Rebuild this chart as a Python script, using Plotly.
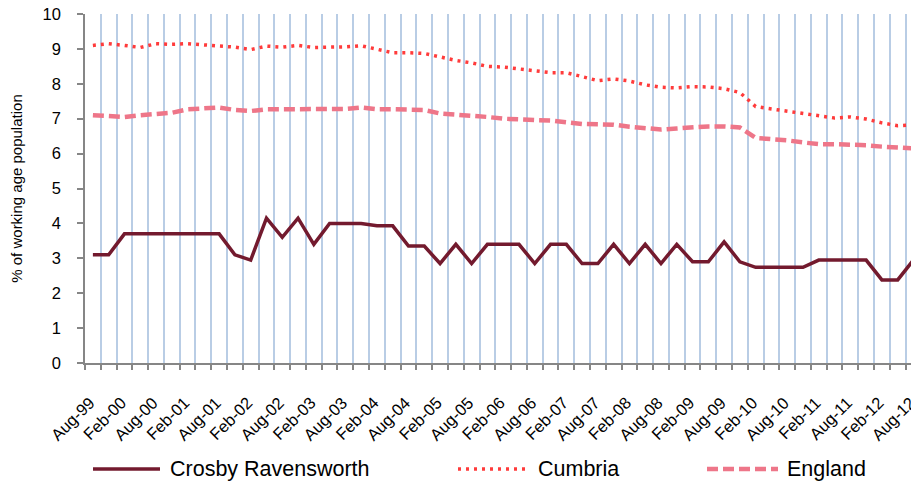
import plotly.graph_objects as go

# quarterly periods shown on the category axis
quarters = [
    "Aug-99", "Nov-99", "Feb-00", "May-00", "Aug-00", "Nov-00", "Feb-01", "May-01",
    "Aug-01", "Nov-01", "Feb-02", "May-02", "Aug-02", "Nov-02", "Feb-03", "May-03",
    "Aug-03", "Nov-03", "Feb-04", "May-04", "Aug-04", "Nov-04", "Feb-05", "May-05",
    "Aug-05", "Nov-05", "Feb-06", "May-06", "Aug-06", "Nov-06", "Feb-07", "May-07",
    "Aug-07", "Nov-07", "Feb-08", "May-08", "Aug-08", "Nov-08", "Feb-09", "May-09",
    "Aug-09", "Nov-09", "Feb-10", "May-10", "Aug-10", "Nov-10", "Feb-11", "May-11",
    "Aug-11", "Nov-11", "Feb-12", "May-12", "Aug-12",
]
# only every second period gets a label
tick_labels = [
    "Aug-99", "Feb-00", "Aug-00", "Feb-01", "Aug-01", "Feb-02", "Aug-02", "Feb-03",
    "Aug-03", "Feb-04", "Aug-04", "Feb-05", "Aug-05", "Feb-06", "Aug-06", "Feb-07",
    "Aug-07", "Feb-08", "Aug-08", "Feb-09", "Aug-09", "Feb-10", "Aug-10", "Feb-11",
    "Aug-11", "Feb-12", "Aug-12",
]

crosby = [
    3.1, 3.1, 3.7, 3.7, 3.7, 3.7, 3.7, 3.7, 3.7, 3.1,
    2.95, 4.15, 3.6, 4.15, 3.4, 4.0, 4.0, 4.0, 3.93, 3.93,
    3.35, 3.35, 2.85, 3.4, 2.85, 3.4, 3.4, 3.4, 2.85, 3.4,
    3.4, 2.85, 2.85, 3.4, 2.85, 3.4, 2.85, 3.4, 2.9, 2.9,
    3.47, 2.9, 2.74, 2.74, 2.74, 2.74, 2.95, 2.95, 2.95, 2.95,
    2.38, 2.38, 2.95,
]
cumbria = [
    9.1, 9.15, 9.1, 9.04, 9.15, 9.13, 9.15, 9.12, 9.1, 9.05,
    8.98, 9.08, 9.05, 9.1, 9.04, 9.04, 9.06, 9.09, 8.98, 8.89,
    8.89, 8.87, 8.77, 8.67, 8.6, 8.5, 8.48, 8.42, 8.37, 8.32,
    8.32, 8.2, 8.09, 8.14, 8.08, 7.97, 7.9, 7.88, 7.92, 7.91,
    7.86, 7.75, 7.35, 7.28, 7.22, 7.16, 7.08, 7.02, 7.05, 6.99,
    6.88, 6.8, 6.82,
]
england = [
    7.1, 7.08, 7.05, 7.1, 7.15, 7.17, 7.27, 7.28, 7.32, 7.25,
    7.22, 7.27, 7.27, 7.3, 7.27, 7.27, 7.28, 7.32, 7.27, 7.27,
    7.27, 7.25, 7.15, 7.12, 7.1, 7.05, 7.0, 6.97, 6.96, 6.95,
    6.89, 6.85, 6.84, 6.83, 6.77, 6.72, 6.69, 6.72, 6.76, 6.78,
    6.78, 6.75, 6.45, 6.42, 6.38, 6.32, 6.27, 6.27, 6.27, 6.24,
    6.2, 6.16, 6.15,
]

series_names = ["Crosby Ravensworth", "Cumbria", "England"]

FONT = "Liberation Sans, Arial, sans-serif"
AXIS_GREY = "#868686"
GRID_BLUE = "#B9CDE5"

styles = [
    dict(color="#731A2E", width=3.5, dash="solid"),
    dict(color="#FF3B3B", width=3.5, dash="3px,5px"),
    dict(color="#EE7689", width=4.5, dash="11px,5px"),
]

# page body has an 8px margin, so the figure is 8px smaller than the window
W, H = 911, 478
M_L, M_R, M_T, M_B = 77, 0, 6, 123

fig = go.Figure()
for name, vals, st in zip(series_names, [crosby, cumbria, england], styles):
    fig.add_trace(go.Scatter(x=quarters, y=vals, mode="lines", name=name,
                             line=st, showlegend=False))

ticktext = [q if q in tick_labels else "" for q in quarters]

fig.update_xaxes(
    type="category", range=[-0.5, 52.35],
    tickmode="array", tickvals=quarters, ticktext=ticktext,
    tickson="boundaries", ticks="outside", ticklen=5, tickwidth=1.5,
    tickcolor=AXIS_GREY, tickangle=-45, ticklabelstandoff=22,
    ticklabelshift=-3, ticklabeloverflow="allow",
    showgrid=True, gridcolor=GRID_BLUE, gridwidth=1.5,
    showline=True, linecolor=AXIS_GREY, linewidth=1.5,
    tickfont=dict(family=FONT, size=16.5, color="black"),
)
fig.update_yaxes(
    range=[0, 10], dtick=1, showgrid=False, zeroline=False,
    ticks="outside", ticklen=6, tickwidth=1.5, tickcolor=AXIS_GREY,
    showline=True, linecolor=AXIS_GREY, linewidth=1.5,
    ticklabelstandoff=13, ticklabeloverflow="allow",
    tickfont=dict(family=FONT, size=16.5, color="black"),
    title=dict(text="% of working age population", standoff=24,
               font=dict(family=FONT, size=15, color="black")),
)

# hand-drawn legend (Excel style, long samples), positions in page pixels
pw, ph = W - M_L - M_R, H - M_T - M_B


def px_x(v):
    return (v - 8 - M_L) / pw


def px_y(v):
    return (H - M_B - (v - 8)) / ph


leg_y = 469
leg_items = [(93, 160, 168), (458, 527, 536), (707, 778, 785)]
for name, st, (x0, x1, xt) in zip(series_names, styles, leg_items):
    fig.add_shape(type="line", xref="paper", yref="paper",
                  x0=px_x(x0), x1=px_x(x1), y0=px_y(leg_y), y1=px_y(leg_y),
                  line=st)
    fig.add_annotation(xref="paper", yref="paper", x=px_x(xt), y=px_y(leg_y),
                       text=name, showarrow=False, xanchor="left", yanchor="middle",
                       font=dict(family=FONT, size=21.5, color="black"))

fig.update_layout(
    width=W, height=H,
    margin=dict(l=M_L, r=M_R, t=M_T, b=M_B, autoexpand=False),
    plot_bgcolor="white", paper_bgcolor="white",
    showlegend=False,
)

fig.write_html("out.html")
